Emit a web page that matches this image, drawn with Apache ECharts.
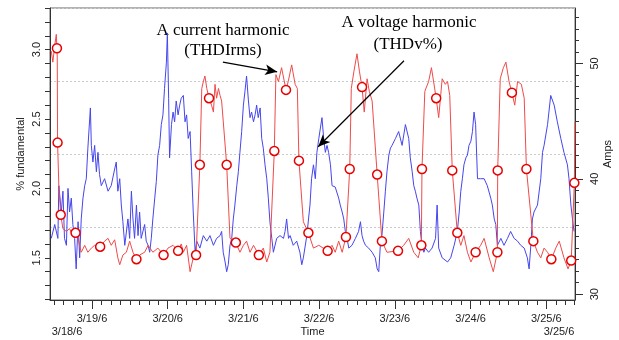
<!DOCTYPE html>
<html>
<head>
<meta charset="utf-8">
<script src="https://cdn.jsdelivr.net/npm/echarts@6/dist/echarts.min.js"></script>
<style>html,body{margin:0;padding:0;background:#fff}#c{width:619px;height:340px}</style>
</head>
<body>
<div id="c"></div>
<script>
// time in hours since 3/18/06 00:00
const dayHours = [24, 48, 72, 96, 120, 144, 168];
const dayLabels = ['3/19/6', '3/20/6', '3/21/6', '3/22/6', '3/23/6', '3/24/6', '3/25/6'];
const leftTickLabels = [1.5, 2.0, 2.5, 3.0];
const rightTickLabels = [30, 40, 50];

// red: THDIrms (% fundamental); redMark = 1 where a circle marker is drawn
const redHours = [11.1,11.6,12.2,12.7,12.9,13.0,13.1,13.5,14.1,14.8,15.9,16.9,17.95,18.8,19.6,20.6,21.7,22.7,23.8,24.85,26.6,28.0,29.1,30.1,31.2,32.2,32.8,33.8,34.9,35.95,37.0,38.1,39.1,40.7,41.8,43.3,44.9,46.7,48.1,49.7,51.3,52.3,52.96,54.0,55.1,56.1,57.0,58.2,58.8,59.3,59.8,60.4,61.1,61.9,62.5,63.0,63.5,64.1,64.6,65.1,66.7,67.75,69.6,70.9,72.0,73.0,74.1,75.2,76.9,78.3,79.4,80.4,81.8,82.3,83.1,84.1,85.5,86.2,87.3,88.4,89.1,89.6,91.0,92.6,94.2,95.9,98.7,100.1,101.1,102.2,103.3,104.5,105.7,106.2,107.0,108.0,108.8,109.6,110.3,111.2,111.9,112.8,114.4,115.9,117.5,121.0,122.8,124.4,126.0,127.4,128.4,128.6,129.5,130.7,131.6,133.1,133.9,135.0,136.0,136.7,137.4,138.2,139.8,140.9,141.9,143.0,144.1,145.6,147.2,148.3,149.9,151.2,152.5,152.6,153.4,154.4,155.2,156.2,157.1,158.0,158.9,160.1,161.0,161.7,163.9,165.2,166.25,167.3,168.4,169.6,171.0,172.1,173.6,174.9,175.9,176.9,177.1];
const redValues = [2.99,2.91,3.03,3.11,3.01,2.94,2.33,2.02,1.81,1.71,1.69,1.71,1.66,1.68,1.64,1.54,1.59,1.54,1.57,1.59,1.58,1.62,1.64,1.59,1.63,1.50,1.45,1.52,1.54,1.62,1.54,1.49,1.52,1.54,1.59,1.54,1.57,1.52,1.57,1.59,1.55,1.60,1.54,1.59,1.40,1.50,1.52,2.17,2.72,2.77,2.81,2.72,2.65,2.60,2.55,2.75,2.65,2.72,2.67,2.63,2.17,1.64,1.61,1.54,1.59,1.62,1.54,1.59,1.52,1.57,1.47,1.54,2.27,2.82,2.77,2.87,2.71,2.77,2.89,2.75,2.72,2.20,1.76,1.68,1.57,1.59,1.55,1.59,1.54,1.62,1.54,1.65,2.14,2.72,2.84,2.97,2.84,2.73,2.55,2.79,2.70,2.63,2.10,1.62,1.54,1.55,1.59,1.64,1.54,1.50,1.59,2.14,2.70,2.77,2.87,2.65,2.51,2.79,2.75,2.77,2.67,2.13,1.68,1.59,1.66,1.54,1.47,1.54,1.59,1.64,1.50,1.40,1.54,2.13,2.79,2.87,2.91,2.77,2.69,2.60,2.77,2.75,2.65,2.14,1.62,1.54,1.50,1.57,1.54,1.49,1.57,1.62,1.50,1.42,1.48,2.04,2.48];
const redMark = [0,0,0,0,1,0,1,0,1,0,0,0,0,1,0,0,0,0,0,0,1,0,0,0,0,0,0,0,0,0,0,1,0,0,0,0,0,1,0,0,1,0,0,0,0,0,1,1,0,0,0,0,1,0,0,0,0,0,0,0,1,0,1,0,0,0,0,0,1,0,0,0,1,0,0,0,1,0,0,0,0,1,0,1,0,0,1,0,0,0,0,1,1,0,0,0,0,1,0,0,0,0,1,1,0,1,0,0,0,0,1,1,0,0,0,1,0,0,0,0,0,1,1,0,0,0,0,1,0,0,0,0,1,1,0,0,0,0,1,0,0,0,0,1,1,0,0,0,0,1,0,0,0,0,1,1,0];

// blue: THDv%
const blueHours = [11.1,12.2,13.2,13.5,14.3,14.8,15.3,15.9,16.4,16.9,17.45,17.95,18.5,19.0,19.6,20.1,20.6,21.15,21.7,22.2,22.7,23.5,23.8,24.3,24.85,25.4,25.9,26.4,26.96,28.0,29.1,30.1,31.2,31.7,32.2,32.8,33.3,33.8,34.4,35.4,35.95,36.5,37.0,37.5,38.1,38.6,39.1,39.6,40.7,41.2,41.8,42.3,42.8,43.3,43.9,44.4,44.9,45.45,45.98,46.5,47.0,47.6,47.9,48.3,48.6,49.2,49.7,50.2,50.7,51.3,51.8,52.3,52.96,53.5,54.0,54.5,55.1,55.6,56.1,56.7,57.2,58.2,59.3,60.4,61.4,62.5,63.5,64.6,65.1,65.6,66.2,66.7,67.2,67.75,68.3,68.8,69.3,69.9,70.4,70.9,71.45,72.0,72.5,73.0,73.6,74.1,74.6,75.2,75.7,76.2,76.7,77.3,77.8,78.3,78.85,79.4,79.9,80.4,81.0,81.5,82.55,83.6,84.7,85.2,85.7,86.3,86.8,87.8,88.9,89.9,90.5,91.0,92.1,93.1,93.6,94.2,94.8,95.3,95.9,96.9,97.45,97.98,98.5,99.0,99.6,100.1,101.1,102.2,102.7,103.3,103.8,104.3,104.85,105.4,106.4,107.5,108.5,109.1,109.6,110.1,110.7,111.7,112.8,113.8,114.4,114.9,115.4,115.9,116.5,117.0,117.5,118.1,118.6,119.1,120.2,121.2,122.3,123.35,124.4,124.9,125.5,126.0,126.5,127.0,127.6,128.1,128.6,129.2,129.7,130.7,131.8,132.9,133.4,133.9,135.0,136.7,137.7,138.8,139.8,140.4,140.9,141.4,141.9,142.5,143.0,143.5,144.1,144.6,145.1,145.6,146.2,147.2,148.3,149.3,150.4,150.9,151.5,152.0,152.5,153.6,154.6,155.7,156.7,157.8,158.9,159.9,161.0,162.0,162.55,163.1,163.6,164.1,165.2,166.25,166.8,167.3,168.4,169.4,170.5,171.5,172.6,173.6,174.7,175.2,175.8,176.3,176.8];
const blueValues = [1.64,1.74,1.64,2.02,1.83,1.98,1.64,1.59,2.00,1.83,1.93,1.74,1.64,1.42,1.76,1.50,1.78,1.93,2.02,2.07,2.29,2.58,2.31,2.19,2.31,2.12,2.26,2.10,2.02,2.07,1.98,2.02,2.14,2.19,1.98,2.07,1.88,1.76,1.59,1.78,1.64,1.98,1.78,1.64,1.88,1.66,1.83,1.64,1.74,1.62,1.59,1.54,1.64,1.78,1.93,2.05,2.24,2.31,2.46,2.53,2.72,2.91,3.12,2.65,2.22,2.46,2.55,2.48,2.63,2.53,2.60,2.65,2.67,2.48,2.53,2.36,2.41,2.12,1.83,1.54,1.62,1.57,1.66,1.62,1.66,1.59,1.64,1.66,1.69,1.54,1.47,1.40,1.45,1.59,1.64,1.78,1.88,2.02,2.12,2.26,2.41,2.60,2.70,2.81,2.63,2.51,2.55,2.48,2.53,2.60,2.51,2.58,2.36,2.29,2.17,2.07,1.93,1.76,1.64,1.54,1.64,1.66,1.64,1.69,1.78,1.64,1.66,1.59,1.62,1.54,1.45,1.50,1.66,1.88,2.07,2.17,2.07,2.26,2.36,2.51,2.36,2.26,2.31,2.26,2.17,2.02,2.01,1.93,1.88,1.83,1.78,1.69,1.64,1.57,1.59,1.64,1.69,1.76,1.66,1.62,1.59,1.57,1.54,1.50,1.42,1.40,1.59,1.66,1.83,1.98,2.12,2.24,2.29,2.31,2.36,2.41,2.31,2.46,2.36,2.22,2.12,2.02,1.98,1.93,1.88,1.69,1.59,1.54,1.57,1.54,1.57,1.64,1.88,1.57,1.50,1.47,1.50,1.59,1.69,1.83,1.98,2.07,2.17,2.22,2.24,2.31,2.34,2.41,2.55,2.46,2.07,2.07,2.07,2.02,1.93,1.88,1.78,1.74,1.59,1.64,1.59,1.64,1.69,1.64,1.62,1.59,1.57,1.50,1.42,1.59,1.78,1.83,1.88,2.07,2.26,2.31,2.46,2.67,2.60,2.48,2.36,2.26,2.17,2.07,1.88,1.78,1.69];

// annotation arrows: [fromHour, fromValue, toHour, toValue]
const arrows = [[65.5, 2.91, 82.7, 2.84], [122.9, 2.92, 95.7, 2.30]];

const X_MIN = 10.7, X_MAX = 177.1;
const L_MIN = 1.196, L_MAX = 3.30;
const R_MIN = 29.5, R_MAX = 54.8;

const minorX = []; for (let h = 12; h <= X_MAX; h += 3) minorX.push(h);
const minorL = []; for (let v = 1.2; v <= L_MAX + 1e-9; v += 0.1) minorL.push(+v.toFixed(2));
const minorR = []; for (let v = 30; v <= 54; v++) minorR.push(v);

const redLine = redHours.map((h, i) => [h, redValues[i]]);
const redPts = redHours.map((h, i) => [h, redValues[i]]).filter((p, i) => redMark[i] === 1);
const blueLine = blueHours.map((h, i) => [h, blueValues[i]]);

const axisCol = '#333';
const font = '"Liberation Sans", Arial, sans-serif';
const serif = '"Liberation Serif", "Times New Roman", serif';

const chart = echarts.init(document.getElementById('c'), null, {renderer: 'canvas'});
chart.setOption({
  animation: false,
  backgroundColor: '#fff',
  grid: {left: 50, top: 8, right: 44, bottom: 40, show: true, borderColor: '#666', borderWidth: 1,
    containLabel: false, outerBoundsMode: 'none'},
  xAxis: [
    {
      type: 'value', min: X_MIN, max: X_MAX, position: 'bottom',
      axisLine: {show: true, lineStyle: {color: axisCol}},
      axisTick: {show: true, customValues: minorX, length: 5, lineStyle: {color: axisCol}},
      axisLabel: {show: true, customValues: dayHours, margin: 13, color: '#222', fontFamily: font, fontSize: 11,
        formatter: v => dayLabels[dayHours.indexOf(Math.round(v))] || ''},
      splitLine: {show: false},
      name: 'Time', nameLocation: 'middle', nameGap: 26, nameMoveOverlap: false,
      nameTextStyle: {color: '#222', fontFamily: font, fontSize: 11}
    },
    {
      type: 'value', min: X_MIN, max: X_MAX, position: 'bottom',
      axisLine: {show: false},
      axisTick: {show: true, customValues: dayHours, length: 9, lineStyle: {color: axisCol}},
      axisLabel: {show: false}, splitLine: {show: false}
    }
  ],
  yAxis: [
    {
      type: 'value', min: L_MIN, max: L_MAX, position: 'left',
      axisLine: {show: true, lineStyle: {color: axisCol}},
      axisTick: {show: true, customValues: minorL, length: 5, lineStyle: {color: axisCol}},
      axisLabel: {show: true, customValues: leftTickLabels, rotate: 90, margin: 8, color: '#222', fontFamily: font, fontSize: 11,
        formatter: v => v.toFixed(1)},
      splitLine: {show: false},
      name: '% fundamental', nameLocation: 'middle', nameRotate: 90, nameGap: 24, nameMoveOverlap: false,
      nameTextStyle: {color: '#222', fontFamily: font, fontSize: 11}
    },
    {
      type: 'value', min: R_MIN, max: R_MAX, position: 'right',
      axisLine: {show: true, lineStyle: {color: axisCol}},
      axisTick: {show: true, customValues: minorR, length: 4, lineStyle: {color: axisCol}},
      axisLabel: {show: true, customValues: rightTickLabels, rotate: 90, margin: 14, color: '#222', fontFamily: font, fontSize: 11},
      splitLine: {show: false},
      name: 'Amps', nameLocation: 'middle', nameRotate: 90, nameGap: 27, nameMoveOverlap: false,
      nameTextStyle: {color: '#222', fontFamily: font, fontSize: 11}
    },
    {
      type: 'value', min: R_MIN, max: R_MAX, position: 'right',
      axisLine: {show: false},
      axisTick: {show: true, customValues: rightTickLabels, length: 8, lineStyle: {color: axisCol}},
      axisLabel: {show: false}, splitLine: {show: false}
    },
    {
      type: 'value', min: 0, max: 4, interval: 1, position: 'left',
      axisLine: {show: false}, axisTick: {show: false}, axisLabel: {show: false},
      splitLine: {show: true, lineStyle: {color: '#cccccc', type: [2, 2], width: 1}}
    }
  ],
  series: [
    {
      name: 'THDIrms', type: 'line', data: redLine, showSymbol: false, symbol: 'none',
      lineStyle: {color: '#f04a4a', width: 1}, z: 3
    },
    {
      name: 'THDv%', type: 'line', data: blueLine, showSymbol: false, symbol: 'none',
      lineStyle: {color: '#4545ee', width: 1}, z: 2,
      markLine: {
        silent: true, symbol: ['none', 'arrow'], symbolSize: [8, 12],
        lineStyle: {color: '#000', width: 1.2, type: 'solid'}, label: {show: false},
        data: arrows.map(a => [{coord: [a[0], a[1]]}, {coord: [a[2], a[3]]}])
      }
    },
    {
      name: 'markers', type: 'scatter', data: redPts, symbol: 'circle', symbolSize: 9,
      itemStyle: {color: '#fff', borderColor: '#e80000', borderWidth: 1.5, opacity: 1}, z: 5
    }
  ],
  graphic: [
    {type: 'text', x: 223, y: 31, style: {text: 'A current harmonic', font: '17px ' + serif, fill: '#000', textAlign: 'center', textVerticalAlign: 'middle'}},
    {type: 'text', x: 223, y: 51, style: {text: '(THDIrms)', font: '17px ' + serif, fill: '#000', textAlign: 'center', textVerticalAlign: 'middle'}},
    {type: 'text', x: 409, y: 23, style: {text: 'A voltage harmonic', font: '17px ' + serif, fill: '#000', textAlign: 'center', textVerticalAlign: 'middle'}},
    {type: 'text', x: 408, y: 45, style: {text: '(THDv%)', font: '17px ' + serif, fill: '#000', textAlign: 'center', textVerticalAlign: 'middle'}},
    {type: 'text', x: 67, y: 332, style: {text: '3/18/6', font: '11px ' + font, fill: '#222', textAlign: 'center', textVerticalAlign: 'middle'}},
    {type: 'text', x: 559, y: 332, style: {text: '3/25/6', font: '11px ' + font, fill: '#222', textAlign: 'center', textVerticalAlign: 'middle'}}
  ]
});
</script>
</body>
</html>
